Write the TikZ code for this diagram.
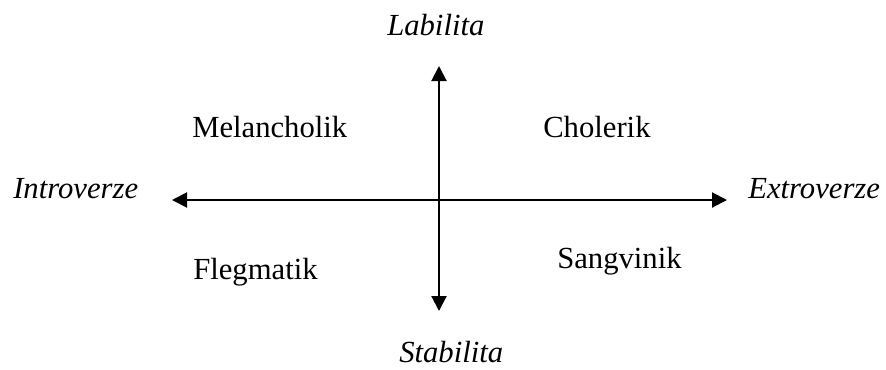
\documentclass[tikz,border=0pt]{standalone}
\usepackage{fontspec}
\setmainfont{Liberation Serif}
\usetikzlibrary{arrows.meta}
\begin{document}
\begin{tikzpicture}[x=0.75pt,y=-0.75pt,
  lbl/.style={anchor=base west,inner sep=0pt,font=\fontsize{23}{28}\selectfont},
  axislbl/.style={lbl,font=\fontsize{23}{28}\selectfont\itshape},
  axis/.style={line width=1.5pt,{Triangle[length=11.25pt,width=11.25pt]}-{Triangle[length=11.25pt,width=11.25pt]}}]
\useasboundingbox (0,0) rectangle (886,369);
\coordinate (L) at (172,200);
\coordinate (R) at (727,200);
\coordinate (T) at (439,66);
\coordinate (B) at (439,311);
\draw[axis] (L) -- (R);
\draw[axis] (T) -- (B);
\node[axislbl] (lab) at (387,35) {Labilita};
\node[axislbl] (stab) at (399,362) {Stabilita};
\node[axislbl] (intro) at (13,198) {Introverze};
\node[axislbl] (extro) at (748,198) {Extroverze};
\node[lbl] (mel) at (192,137) {Melancholik};
\node[lbl] (chol) at (543,137) {Cholerik};
\node[lbl] (fleg) at (193,279) {Flegmatik};
\node[lbl] (sang) at (557,268) {Sangvinik};
\end{tikzpicture}
\end{document}
